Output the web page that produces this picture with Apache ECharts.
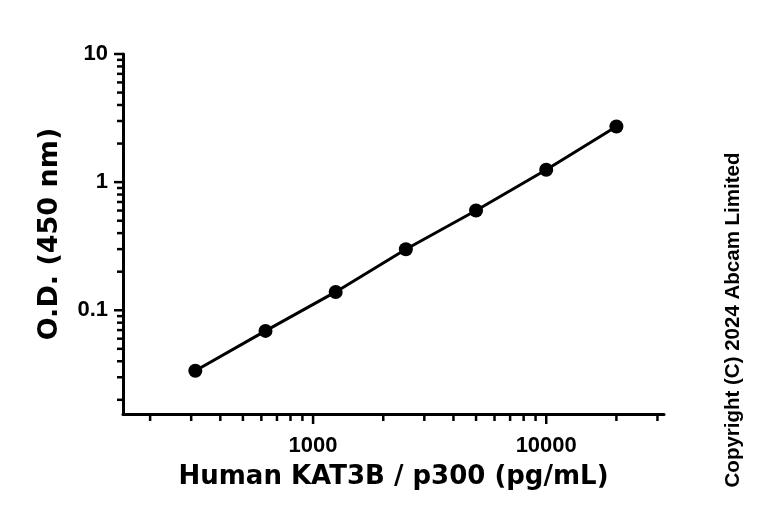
<!DOCTYPE html>
<html>
<head>
<meta charset="utf-8">
<script src="https://cdn.jsdelivr.net/npm/echarts@6/dist/echarts.min.js"></script>
<style>
  html, body { margin: 0; padding: 0; background: #fff; }
  #main { width: 768px; height: 522px; }
</style>
</head>
<body>
<div id="main"></div>
<script>
// 标准曲线数据
const concentrations = [312.5, 625, 1250, 2500, 5000, 10000, 20000];
const odValues = [0.0337, 0.069, 0.139, 0.299, 0.600, 1.25, 2.72];

// 坐标轴范围与刻度
const xMin = 153;
const xMax = 32000;
const yMin = 0.0155;
const yMax = 10;
const xMajorTicks = [1000, 10000];
const xMinorTicks = [200, 300, 400, 500, 600, 700, 800, 900, 2000, 3000, 4000, 5000, 6000, 7000, 8000, 9000, 20000, 30000];
const yMajorTicks = [0.1, 1, 10];
const yMinorTicks = [0.02, 0.03, 0.04, 0.05, 0.06, 0.07, 0.08, 0.09, 0.2, 0.3, 0.4, 0.5, 0.6, 0.7, 0.8, 0.9, 2, 3, 4, 5, 6, 7, 8, 9];
const xLabels = ['1000', '10000'];
const yLabels = ['0.1', '1', '10'];

const points = concentrations.map((c, i) => [c, odValues[i]]);

// 刻度线用 custom series 画，位置由坐标轴换算
const xTickData = xMajorTicks.map(v => [v, yMin, 1]).concat(xMinorTicks.map(v => [v, yMin, 0]));
const yTickData = yMajorTicks.map(v => [xMin, v, 1]).concat(yMinorTicks.map(v => [xMin, v, 0]));

const chart = echarts.init(document.getElementById('main'));

const tickStyle = { stroke: '#000', lineWidth: 2.5 };
const labelFont = 'Liberation Sans';

function labelFor(value, vals, labels) {
  for (let i = 0; i < vals.length; i++) {
    if (Math.abs(value - vals[i]) / vals[i] < 1e-6) return labels[i];
  }
  return '';
}

const option = {
  animation: false,
  backgroundColor: '#fff',
  grid: { left: 123, right: 104, top: 54, bottom: 108 },
  xAxis: {
    type: 'log',
    logBase: 10,
    min: xMin,
    max: xMax,
    name: 'Human KAT3B / p300 (pg/mL)',
    nameLocation: 'middle',
    nameGap: 50,
    nameTextStyle: { fontFamily: 'DejaVu Sans', fontWeight: 'bold', fontSize: 26, color: '#000' },
    axisLine: { lineStyle: { color: '#000', width: 3 } },
    axisTick: { show: false },
    splitLine: { show: false },
    minorTick: { show: false },
    axisLabel: {
      margin: 21,
      fontFamily: labelFont,
      fontWeight: 'bold',
      fontSize: 22,
      color: '#000',
      showMinLabel: false,
      showMaxLabel: false,
      formatter: v => labelFor(v, xMajorTicks, xLabels)
    }
  },
  yAxis: {
    type: 'log',
    logBase: 10,
    min: yMin,
    max: yMax,
    name: 'O.D. (450 nm)',
    nameLocation: 'middle',
    nameGap: 60,
    nameTextStyle: { fontFamily: 'DejaVu Sans', fontWeight: 'bold', fontSize: 27, color: '#000' },
    axisLine: { lineStyle: { color: '#000', width: 3 } },
    axisTick: { show: false },
    splitLine: { show: false },
    minorTick: { show: false },
    axisLabel: {
      margin: 15,
      fontFamily: labelFont,
      fontWeight: 'bold',
      fontSize: 22,
      color: '#000',
      showMinLabel: false,
      formatter: v => labelFor(v, yMajorTicks, yLabels)
    }
  },
  graphic: [{
    type: 'text',
    x: 733,
    y: 320,
    rotation: Math.PI / 2,
    style: {
      text: 'Copyright (C) 2024 Abcam Limited',
      fontFamily: labelFont,
      fontWeight: 'bold',
      fontSize: 20.5,
      fill: '#000',
      align: 'center',
      verticalAlign: 'middle'
    }
  }],
  series: [
    {
      type: 'line',
      data: points,
      symbol: 'circle',
      symbolSize: 14,
      itemStyle: { color: '#000' },
      lineStyle: { color: '#000', width: 3 },
      z: 5
    },
    {
      type: 'custom',
      data: xTickData,
      encode: { x: 0, y: 1 },
      clip: false,
      silent: true,
      renderItem: (params, api) => {
        const p = api.coord([api.value(0), api.value(1)]);
        const len = api.value(2) ? 10 : 7;
        return { type: 'line', shape: { x1: p[0], y1: p[1], x2: p[0], y2: p[1] + len }, style: tickStyle };
      }
    },
    {
      type: 'custom',
      data: yTickData,
      encode: { x: 0, y: 1 },
      clip: false,
      silent: true,
      renderItem: (params, api) => {
        const p = api.coord([api.value(0), api.value(1)]);
        const len = api.value(2) ? 9 : 6;
        return { type: 'line', shape: { x1: p[0], y1: p[1], x2: p[0] - len, y2: p[1] }, style: tickStyle };
      }
    }
  ]
};

chart.setOption(option);
</script>
</body>
</html>
